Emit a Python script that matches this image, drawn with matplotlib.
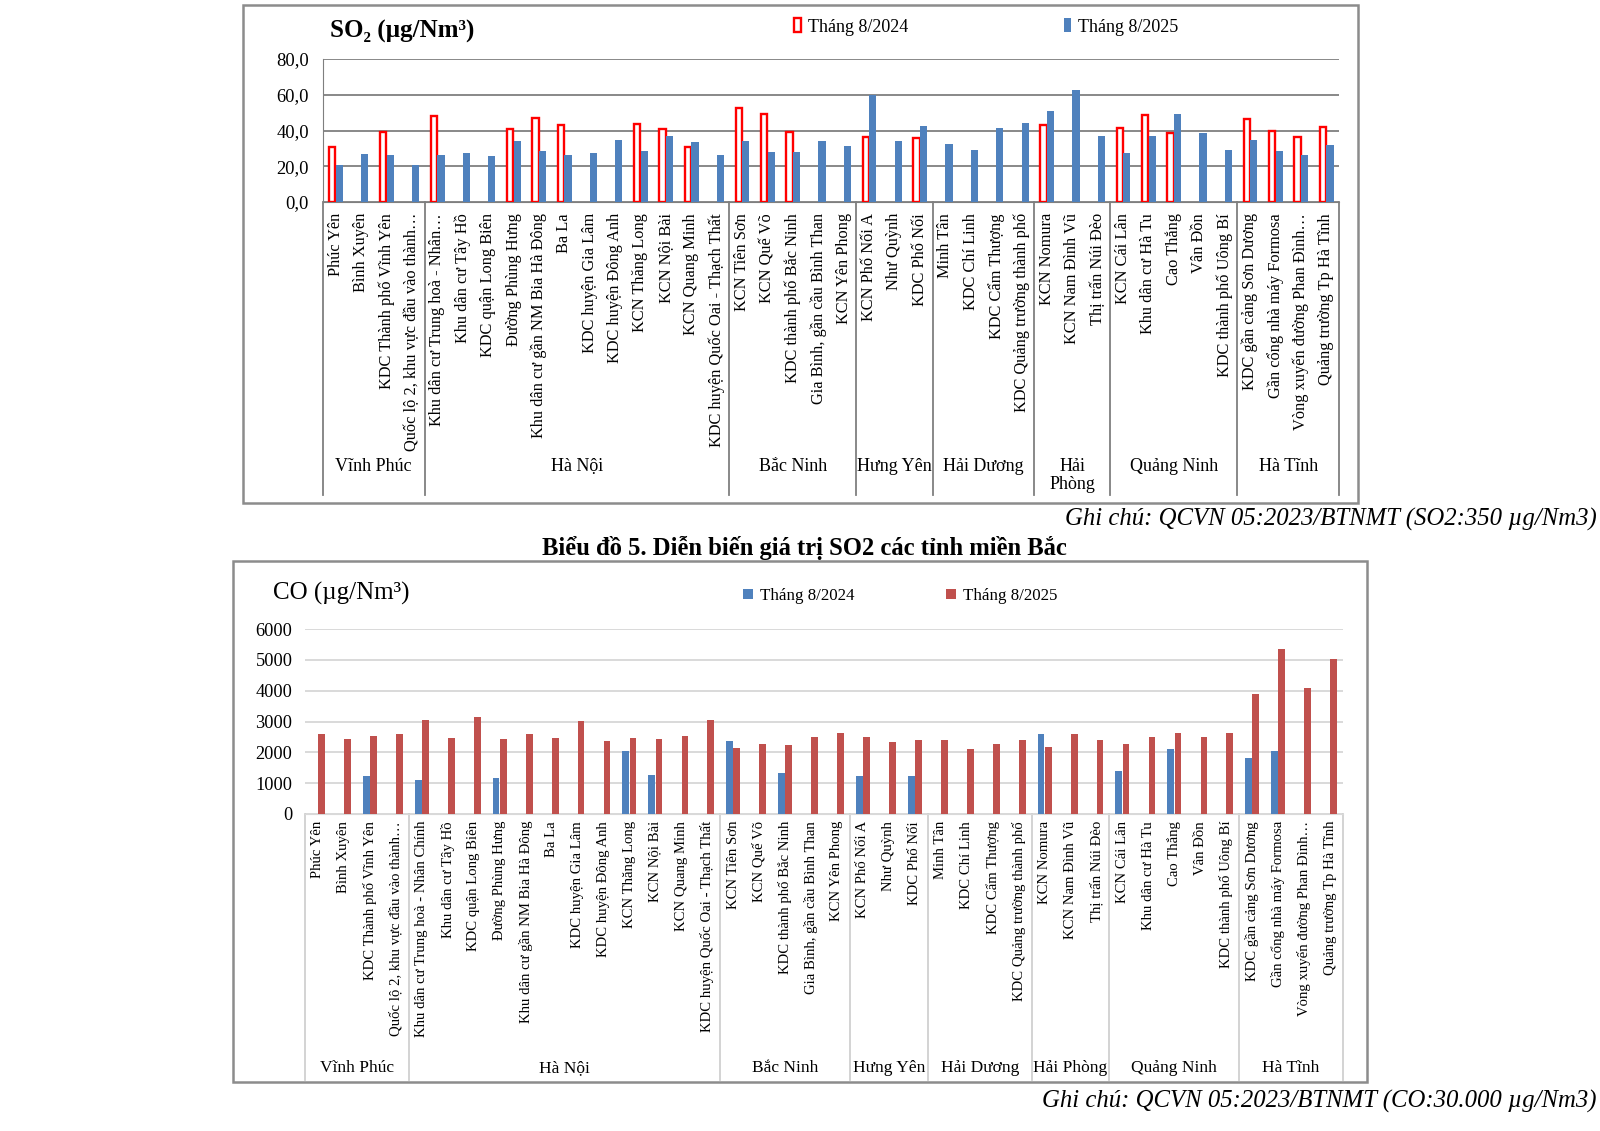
import numpy as np
import matplotlib
matplotlib.use('Agg')
import matplotlib.pyplot as plt
from matplotlib.patches import Rectangle

plt.rcParams['font.family'] = ['Liberation Serif', 'DejaVu Serif']

groupsSo2 = ['Vĩnh Phúc', 'Hà Nội', 'Bắc Ninh', 'Hưng Yên', 'Hải Dương', 'Hải\nPhòng',
             'Quảng Ninh', 'Hà Tĩnh']
groupsCo = ['Vĩnh Phúc', 'Hà Nội', 'Bắc Ninh', 'Hưng Yên', 'Hải Dương', 'Hải Phòng',
            'Quảng Ninh', 'Hà Tĩnh']
groupSizes = [4, 12, 5, 3, 4, 3, 5, 4]

stationsSo2 = ['Phúc Yên', 'Bình Xuyên', 'KDC Thành phố Vĩnh Yên',
               'Quốc lộ 2, khu vực đầu vào thành…',
               'Khu dân cư Trung hoà - Nhân…', 'Khu dân cư Tây Hồ', 'KDC quận Long Biên',
               'Đường Phùng Hưng', 'Khu dân cư gần NM Bia Hà Đông', 'Ba La',
               'KDC huyện Gia Lâm', 'KDC huyện Đông Anh', 'KCN Thăng Long', 'KCN Nội Bài',
               'KCN Quang Minh', 'KDC huyện Quốc Oai - Thạch Thất',
               'KCN Tiên Sơn', 'KCN Quế Võ', 'KDC thành phố Bắc Ninh',
               'Gia Bình, gần cầu Bình Than', 'KCN Yên Phong',
               'KCN Phố Nối A', 'Như Quỳnh', 'KDC Phố Nối',
               'Minh Tân', 'KDC Chí Linh', 'KDC Cẩm Thượng', 'KDC Quảng trường thành phố',
               'KCN Nomura', 'KCN Nam Đình Vũ', 'Thị trấn Núi Đèo',
               'KCN Cái Lân', 'Khu dân cư Hà Tu', 'Cao Thắng', 'Vân Đồn',
               'KDC thành phố Uông Bí',
               'KDC gần cảng Sơn Dương', 'Gần cổng nhà máy Formosa',
               'Vòng xuyến đường Phan Đình…', 'Quảng trường Tp Hà Tĩnh']
stationsCo = list(stationsSo2)
stationsCo[4] = 'Khu dân cư Trung hoà - Nhân Chính'

nan = np.nan
so2_2024 = [31.0, nan, 39.1, nan, 47.9, nan, nan, 40.9, 46.9, 43.2,
            nan, nan, 43.7, 40.7, 31.0, nan, 52.5, 49.3, 39.1, nan,
            nan, 36.6, nan, 35.7, nan, nan, nan, nan, 43.2, nan,
            nan, 41.3, 48.8, 38.5, nan, nan, 46.5, 40.0, 36.1, 41.7]
so2_2025 = [20.9, 26.9, 26.5, 20.9, 26.5, 27.5, 25.8, 34.4, 28.6, 26.2,
            27.5, 34.8, 28.6, 37.2, 33.6, 26.5, 34.2, 28.2, 28.2, 34.2,
            31.4, 59.8, 34.2, 42.6, 32.3, 29.2, 41.3, 44.1, 50.7, 62.8,
            37.0, 27.3, 37.0, 49.3, 38.5, 29.2, 34.8, 28.6, 26.2, 31.8]

co_2024 = [nan, nan, 1220, nan, 1110, nan, nan, 1165, nan, nan,
           nan, nan, 2050, 1270, nan, nan, 2370, nan, 1330, nan,
           nan, 1240, nan, 1220, nan, nan, nan, nan, 2600, nan,
           nan, 1400, nan, 2100, nan, nan, 1810, 2030, nan, nan]
co_2025 = [2610, 2420, 2520, 2580, 3040, 2450, 3150, 2420, 2600, 2450,
           3020, 2370, 2450, 2420, 2520, 3040, 2140, 2280, 2240, 2500,
           2630, 2500, 2320, 2400, 2400, 2100, 2270, 2400, 2160, 2600,
           2400, 2270, 2500, 2620, 2500, 2620, 3880, 5350, 4090, 5020]

W, H = 1600, 1131


def figBox(x0, y0, x1, y1):
  # pixel box (top-left origin) -> figure fraction rect
  return [x0 / W, 1 - y1 / H, (x1 - x0) / W, (y1 - y0) / H]


def drawGroups(ax, groups, axH, labelY, lineY, color, fs):
  trans = ax.get_xaxis_transform()
  edges = np.concatenate([[0], np.cumsum(groupSizes)]) - 0.5
  for e in edges:
    ax.plot([e, e], [0, -lineY / axH], transform=trans, color=color, lw=1.3,
            clip_on=False)
  for i, g in enumerate(groups):
    mid = (edges[i] + edges[i + 1]) / 2
    ax.text(mid, -labelY / axH, g, transform=trans, ha='center', va='top',
            fontsize=fs, linespacing=1.05)


fig = plt.figure(figsize=(W / 100, H / 100), dpi=100)
fig.add_artist(Rectangle((243 / W, 1 - 503 / H), 1115 / W, 498 / H, fill=False,
                         edgecolor='#8c8c8c', lw=1.8, transform=fig.transFigure))
fig.add_artist(Rectangle((233 / W, 1 - 1082 / H), 1134 / W, 521 / H, fill=False,
                         edgecolor='#8c8c8c', lw=1.8, transform=fig.transFigure))

# ---- SO2 chart
x = np.arange(len(stationsSo2))
ax1 = fig.add_axes(figBox(323, 59, 1339, 202))
ax1.bar(x - 0.135, so2_2024, 0.24, facecolor='white', edgecolor='#ff0000', lw=1.7,
        label='Tháng 8/2024', zorder=3)
ax1.bar(x + 0.145, so2_2025, 0.29, color='#4f81bd', label='Tháng 8/2025', zorder=3)
ax1.set_xlim(-0.5, len(x) - 0.5)
ax1.set_ylim(0, 80)
ax1.set_yticks([0, 20, 40, 60, 80])
ax1.set_yticklabels(['0,0', '20,0', '40,0', '60,0', '80,0'], fontsize=13.3)
ax1.yaxis.grid(True, color='#7f7f7f', lw=1.3)
ax1.set_axisbelow(True)
for s in ['top', 'right']:
  ax1.spines[s].set_visible(False)
ax1.spines['left'].set_color('#7f7f7f')
ax1.spines['bottom'].set_color('#7f7f7f')
ax1.tick_params(axis='y', length=0, pad=10)
ax1.set_xticks(x)
ax1.set_xticklabels(stationsSo2, rotation=90, fontsize=11.8)
ax1.tick_params(axis='x', length=0, pad=8)
drawGroups(ax1, groupsSo2, 143, 256, 293, '#7f7f7f', 13)
fig.text(330 / W, 1 - 31 / H, 'SO₂ (µg/Nm³)', fontsize=18, fontweight='bold',
         va='center', ha='left')
ax1.legend(ncol=2, loc='center left', bbox_to_anchor=(794 / W, 1 - 27 / H),
           bbox_transform=fig.transFigure, frameon=False, fontsize=13,
           handlelength=0.4, handleheight=0.8, handletextpad=0.4, columnspacing=8.6,
           borderaxespad=0, borderpad=0)

fig.text(1597 / W, 1 - 519 / H, 'Ghi chú: QCVN 05:2023/BTNMT (SO2:350 µg/Nm3)',
         fontsize=17.8, fontstyle='italic', ha='right', va='center')
fig.text(804 / W, 1 - 548 / H, 'Biểu đồ 5. Diễn biến giá trị SO2 các tỉnh miền Bắc',
         fontsize=17.7, fontweight='bold', ha='center', va='center')

# ---- CO chart
ax2 = fig.add_axes(figBox(305, 629, 1343, 814))
ax2.bar(x - 0.14, co_2024, 0.26, color='#4f81bd', label='Tháng 8/2024', zorder=3)
ax2.bar(x + 0.14, co_2025, 0.26, color='#c0504d', label='Tháng 8/2025', zorder=3)
ax2.set_xlim(-0.5, len(x) - 0.5)
ax2.set_ylim(0, 6000)
ax2.set_yticks(range(0, 6001, 1000))
ax2.tick_params(axis='y', length=0, pad=9, labelsize=13.2)
ax2.yaxis.grid(True, color='#d9d9d9', lw=1.4)
ax2.set_axisbelow(True)
for s in ['top', 'right', 'left']:
  ax2.spines[s].set_visible(False)
ax2.spines['bottom'].set_color('#d9d9d9')
ax2.set_xticks(x)
ax2.set_xticklabels(stationsCo, rotation=90, fontsize=10.6)
ax2.tick_params(axis='x', length=0, pad=5)
drawGroups(ax2, groupsCo, 185, 246, 266, '#d0d0d0', 12.5)
fig.text(273 / W, 1 - 593 / H, 'CO (µg/Nm³)', fontsize=18, va='center', ha='left')
ax2.legend(ncol=2, loc='center left', bbox_to_anchor=(743 / W, 1 - 596 / H),
           bbox_transform=fig.transFigure, frameon=False, fontsize=12.2,
           handlelength=0.6, handleheight=0.6, handletextpad=0.4, columnspacing=5.4,
           borderaxespad=0, borderpad=0)

fig.text(1597 / W, 1 - 1101 / H, 'Ghi chú: QCVN 05:2023/BTNMT (CO:30.000 µg/Nm3)',
         fontsize=17.8, fontstyle='italic', ha='right', va='center')

fig.savefig('out.png', dpi=100, facecolor='white')
